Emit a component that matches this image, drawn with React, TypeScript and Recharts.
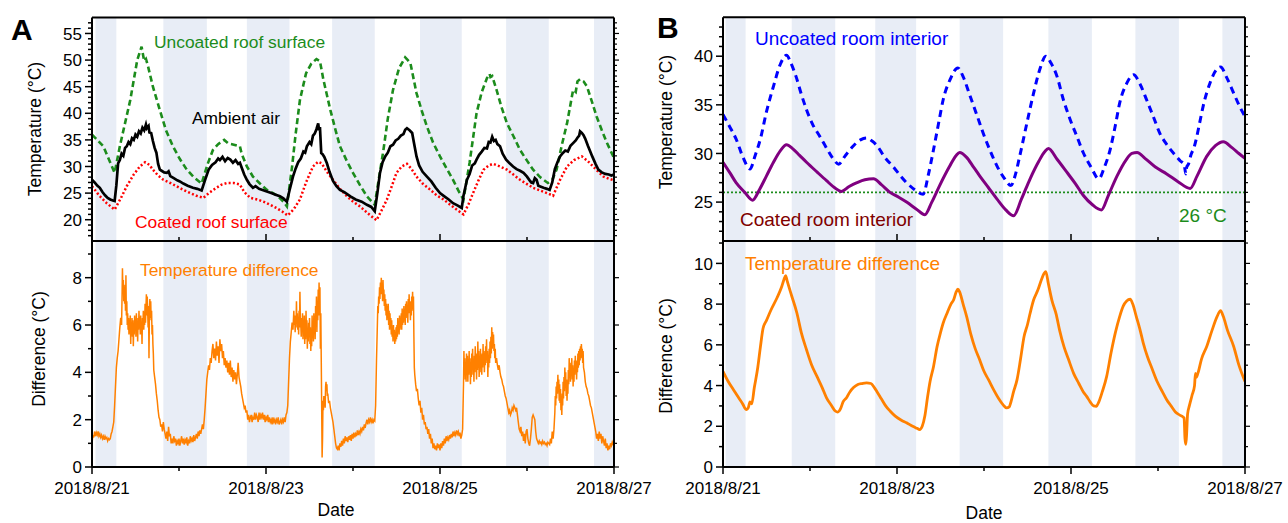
import React from "react";
import { LineChart, Line, XAxis, YAxis, ReferenceArea, ReferenceLine } from "recharts";

const FONT = '"Liberation Sans", Arial, sans-serif';
const BAND = "#e8edf6";

type Pt = [number, number];

// x values are days after 2018/8/21 00:00
const dayTicks = [0, 1, 2, 3, 4, 5, 6];
const labeledDays = [0, 2, 4, 6];
const dateLabels = ["2018/8/21", "2018/8/23", "2018/8/25", "2018/8/27"];

const nightsA: Pt[] = [[0.04, 0.28], [0.82, 1.32], [1.78, 2.27], [2.76, 3.25], [3.77, 4.25], [4.76, 5.25], [5.77, 6]];
const nightsB: Pt[] = [[0.03, 0.26], [0.79, 1.29], [1.75, 2.22], [2.72, 3.22], [3.74, 4.24], [4.74, 5.24], [5.74, 6]];

const tempTicksA = [17, 18, 19, 20, 21, 22, 23, 24, 25, 26, 27, 28, 29, 30, 31, 32, 33, 34, 35, 36, 37, 38, 39, 40, 41, 42, 43, 44, 45, 46, 47, 48, 49, 50, 51, 52, 53, 54, 55, 56, 57];
const tempLabelsA = [20, 25, 30, 35, 40, 45, 50, 55];
const diffTicksA = [0, 1, 2, 3, 4, 5, 6, 7, 8, 9];
const diffLabelsA = [0, 2, 4, 6, 8];
const tempTicksB = [22, 23, 24, 25, 26, 27, 28, 29, 30, 31, 32, 33, 34, 35, 36, 37, 38, 39, 40, 41, 42, 43];
const tempLabelsB = [25, 30, 35, 40];
const diffTicksB = [0, 1, 2, 3, 4, 5, 6, 7, 8, 9, 10, 11];
const diffLabelsB = [0, 2, 4, 6, 8, 10];
const comfortTemp = 26;

const uncoatedRoof: Pt[] = [
  [0, 36.0], [0.13, 33.8], [0.26, 28.8], [0.32, 33.8], [0.44, 42.5], [0.52, 50], [0.57, 52.5], [0.6, 49.8], [0.62, 50.2], [0.64, 49.1],
  [0.7, 45], [0.78, 40.6], [0.85, 36.8], [0.93, 33.8], [1.01, 31.4], [1.09, 29.4], [1.17, 28], [1.26, 26.8], [1.33, 30.5], [1.39, 33.1],
  [1.45, 34.2], [1.52, 35.0], [1.57, 34.3], [1.63, 34.1], [1.7, 33.8], [1.72, 32.4], [1.78, 30], [1.85, 28.1], [1.93, 26.8], [2.01, 25.6],
  [2.08, 25], [2.14, 24.4], [2.2, 23.4], [2.24, 22.5], [2.3, 30], [2.34, 36], [2.39, 42.5], [2.46, 47.5], [2.52, 49.3], [2.58, 50.2],
  [2.62, 49.8], [2.66, 46.3], [2.74, 40.6], [2.8, 36.8], [2.85, 33.8], [2.93, 31], [3.0, 28.8], [3.08, 26.5], [3.16, 24.4], [3.25, 22.8],
  [3.3, 28], [3.35, 33.1], [3.4, 39], [3.46, 44.4], [3.53, 48.5], [3.6, 50.5], [3.63, 50.0], [3.66, 49.4], [3.73, 43.8], [3.79, 40.5],
  [3.85, 37.5], [3.92, 34.5], [4.0, 31.9], [4.08, 29.5], [4.15, 27.5], [4.21, 25.5], [4.27, 23.8], [4.34, 30.7], [4.42, 40.0], [4.48, 44],
  [4.54, 46.6], [4.57, 47.4], [4.58, 46.8], [4.6, 47.0], [4.65, 44.4], [4.71, 41], [4.77, 38.1], [4.85, 35.5], [4.92, 33.1], [5.0, 31.1],
  [5.07, 29.4], [5.15, 28], [5.24, 26.9], [5.29, 27.5], [5.34, 29.4], [5.4, 34], [5.46, 38.1], [5.53, 44.4], [5.56, 44.0], [5.58, 46.0],
  [5.61, 46.4], [5.65, 46.0], [5.69, 45.0], [5.75, 42.0], [5.8, 39.4], [5.86, 36.8], [5.92, 34.4], [6.0, 31.6],
];

const ambientAir: Pt[] = [
  [0, 27.5], [0.03, 27.0], [0.06, 26.4], [0.09, 26.0], [0.12, 25.2], [0.15, 24.6], [0.18, 24.1], [0.21, 23.8], [0.24, 23.6], [0.26, 23.5],
  [0.28, 26.5], [0.3, 30.6], [0.32, 31.2], [0.34, 32.4], [0.36, 32.0], [0.38, 33.5], [0.4, 33.8], [0.42, 34.6], [0.44, 34.2], [0.46, 35.3],
  [0.48, 35.0], [0.5, 36.0], [0.52, 35.6], [0.54, 36.6], [0.56, 36.2], [0.58, 37.3], [0.6, 36.8], [0.62, 37.9], [0.63, 37.2], [0.65, 37.6],
  [0.66, 36.4], [0.68, 36.3], [0.7, 34.8], [0.72, 33.5], [0.74, 32.6], [0.76, 30.5], [0.78, 29.4], [0.8, 29.2], [0.83, 28.9], [0.86, 28.8],
  [0.88, 29.1], [0.9, 28.2], [0.94, 27.8], [0.98, 27.4], [1.01, 27.2], [1.05, 26.8], [1.1, 26.4], [1.16, 26.0], [1.21, 25.8], [1.26, 25.5],
  [1.3, 27.5], [1.34, 29.4], [1.38, 30.3], [1.42, 30.8], [1.45, 31.5], [1.47, 31.2], [1.5, 31.8], [1.53, 31.0], [1.56, 31.6], [1.59, 31.3],
  [1.62, 30.7], [1.65, 31.2], [1.68, 30.5], [1.7, 30.7], [1.72, 29.8], [1.75, 28.5], [1.78, 27.5], [1.81, 26.7], [1.85, 26.0], [1.88, 26.3],
  [1.92, 25.8], [1.96, 25.6], [2.01, 25.3], [2.06, 25.0], [2.11, 24.7], [2.16, 24.4], [2.2, 24.0], [2.24, 23.4], [2.27, 25.5], [2.31, 28.1],
  [2.34, 29.6], [2.37, 30.8], [2.4, 31.5], [2.43, 32.8], [2.45, 32.6], [2.47, 33.8], [2.5, 34.6], [2.52, 34.2], [2.54, 35.8], [2.56, 36.2],
  [2.58, 37.0], [2.6, 38.1], [2.61, 36.8], [2.62, 37.4], [2.635, 32.5], [2.65, 32.3], [2.67, 31.8], [2.7, 30.6], [2.73, 29.0], [2.77, 27.3],
  [2.81, 26.3], [2.85, 25.6], [2.9, 25.2], [2.97, 24.4], [3.03, 23.8], [3.1, 23.4], [3.16, 22.8], [3.21, 22.4], [3.25, 21.6], [3.28, 25.0],
  [3.31, 28.8], [3.34, 30.8], [3.37, 31.9], [3.4, 32.6], [3.43, 33.8], [3.46, 34.1], [3.49, 34.9], [3.52, 35.2], [3.55, 35.8], [3.58, 36.1],
  [3.6, 36.9], [3.62, 37.2], [3.65, 36.8], [3.68, 36.3], [3.7, 34.5], [3.73, 31.9], [3.76, 30.2], [3.8, 29.0], [3.85, 28.1], [3.9, 27.2],
  [3.95, 26.0], [4.0, 25.0], [4.05, 24.4], [4.1, 23.8], [4.15, 23.1], [4.2, 22.7], [4.25, 22.2], [4.27, 24.5], [4.29, 26.0], [4.31, 27.5],
  [4.34, 28.6], [4.37, 30.2], [4.4, 30.6], [4.42, 31.3], [4.45, 32.2], [4.48, 32.8], [4.51, 33.5], [4.54, 33.4], [4.56, 34.6], [4.58, 34.5],
  [4.6, 35.6], [4.62, 34.8], [4.64, 35.0], [4.66, 34.2], [4.69, 33.8], [4.72, 32.4], [4.76, 31.3], [4.8, 30.6], [4.84, 30.0], [4.88, 29.5],
  [4.92, 29.2], [4.96, 28.8], [5.0, 28.1], [5.03, 27.4], [5.05, 27.0], [5.07, 26.9], [5.09, 27.8], [5.11, 27.5], [5.13, 26.4], [5.16, 26.2],
  [5.19, 26.0], [5.23, 25.8], [5.26, 25.6], [5.29, 27.0], [5.32, 29.5], [5.35, 30.8], [5.38, 31.9], [5.41, 32.5], [5.44, 33.0], [5.47, 32.8],
  [5.5, 33.9], [5.53, 34.4], [5.56, 34.9], [5.58, 35.4], [5.6, 35.8], [5.61, 36.6], [5.63, 36.3], [5.65, 35.9], [5.67, 35.2], [5.7, 33.9],
  [5.72, 33.1], [5.75, 31.9], [5.79, 30.4], [5.82, 29.4], [5.86, 28.9], [5.9, 28.6], [5.94, 28.5], [5.97, 28.3], [6.0, 28.5],
];

const coatedRoof: Pt[] = [
  [0, 26.3], [0.08, 24.6], [0.17, 23.1], [0.26, 21.9], [0.33, 24.0], [0.4, 26.3], [0.48, 28.5], [0.55, 30.0], [0.61, 30.8], [0.66, 30.3],
  [0.7, 29.4], [0.76, 28.3], [0.82, 27.5], [0.9, 26.9], [0.97, 26.3], [1.05, 25.6], [1.13, 25.0], [1.2, 24.5], [1.28, 24.1], [1.35, 25.1],
  [1.43, 26.0], [1.49, 26.6], [1.55, 26.9], [1.63, 26.9], [1.7, 26.6], [1.75, 25.2], [1.82, 24.1], [1.9, 23.8], [1.97, 23.4], [2.05, 22.8],
  [2.12, 22.2], [2.19, 21.5], [2.25, 20.8], [2.32, 22.0], [2.39, 23.8], [2.46, 27.0], [2.54, 30.0], [2.6, 30.9], [2.64, 30.6], [2.7, 29.0],
  [2.77, 27.5], [2.85, 25.8], [2.93, 24.4], [3.0, 23.4], [3.08, 22.5], [3.17, 21.2], [3.27, 19.9], [3.33, 21.8], [3.39, 23.8], [3.45, 26.5],
  [3.5, 28.8], [3.56, 30.0], [3.62, 30.5], [3.67, 29.6], [3.73, 28.1], [3.8, 26.8], [3.89, 25.6], [3.96, 24.6], [4.04, 23.8], [4.12, 22.8],
  [4.2, 21.8], [4.27, 21.0], [4.33, 23.0], [4.38, 25.0], [4.44, 27.3], [4.5, 29.4], [4.56, 30.2], [4.61, 30.5], [4.69, 30.0], [4.77, 29.4],
  [4.85, 28.4], [4.92, 27.5], [5.0, 26.7], [5.07, 26.0], [5.15, 25.5], [5.23, 25.0], [5.3, 24.5], [5.38, 27.5], [5.46, 30.0], [5.54, 31.2],
  [5.63, 31.9], [5.7, 31.0], [5.76, 30.0], [5.82, 29.0], [5.88, 28.1], [5.94, 27.7], [6.0, 27.4],
];

const roofDifference: Pt[] = [
  [0, 1.0], [0.01, 1.35], [0.02, 1.25], [0.03, 1.5], [0.04, 1.3], [0.05, 1.45], [0.06, 1.35], [0.07, 1.5], [0.08, 1.3], [0.09, 1.4],
  [0.1, 1.25], [0.11, 1.35], [0.12, 1.2], [0.13, 1.3], [0.14, 1.15], [0.15, 1.3], [0.16, 1.2], [0.17, 1.25], [0.18, 1.1], [0.19, 1.2],
  [0.2, 1.15], [0.21, 1.2], [0.22, 1.4], [0.23, 1.5], [0.24, 1.7], [0.25, 1.9], [0.26, 2.6], [0.27, 3.4], [0.28, 4.2], [0.29, 4.6],
  [0.3, 4.9], [0.31, 5.4], [0.32, 5.9], [0.33, 6.3], [0.34, 6.0], [0.345, 7.1], [0.35, 8.4], [0.355, 7.5], [0.36, 7.9], [0.365, 7.0],
  [0.37, 7.6], [0.375, 6.9], [0.38, 7.7], [0.385, 6.6], [0.39, 8.1], [0.395, 6.4], [0.4, 7.0], [0.405, 6.0], [0.41, 6.5], [0.415, 5.8],
  [0.42, 6.3], [0.425, 5.6], [0.43, 6.2], [0.435, 5.9], [0.44, 6.4], [0.445, 5.2], [0.45, 6.1], [0.455, 5.7], [0.46, 6.3], [0.465, 5.5],
  [0.47, 6.2], [0.475, 5.1], [0.48, 6.0], [0.485, 5.6], [0.49, 6.4], [0.495, 5.8], [0.5, 6.2], [0.505, 5.5], [0.51, 6.5], [0.515, 5.7],
  [0.52, 6.1], [0.525, 5.3], [0.53, 6.3], [0.535, 5.8], [0.54, 6.6], [0.545, 5.9], [0.55, 6.2], [0.555, 5.6], [0.56, 6.4], [0.565, 5.7],
  [0.57, 6.1], [0.575, 5.2], [0.58, 6.3], [0.585, 5.9], [0.59, 6.6], [0.595, 5.8], [0.6, 6.5], [0.605, 6.0], [0.61, 6.9], [0.615, 6.1],
  [0.62, 6.7], [0.625, 7.3], [0.63, 6.4], [0.635, 7.2], [0.64, 6.6], [0.645, 5.9], [0.65, 6.8], [0.655, 4.6], [0.66, 6.5], [0.665, 7.1],
  [0.67, 6.3], [0.675, 7.0], [0.68, 6.2], [0.685, 6.6], [0.69, 5.6], [0.695, 6.0], [0.7, 5.2], [0.705, 4.8], [0.71, 4.1], [0.72, 3.8],
  [0.73, 3.5], [0.74, 3.1], [0.75, 2.8], [0.76, 2.4], [0.77, 2.1], [0.78, 2.0], [0.79, 1.7], [0.8, 1.8], [0.81, 1.5], [0.82, 1.9],
  [0.83, 1.6], [0.84, 1.4], [0.85, 1.2], [0.86, 1.5], [0.87, 1.1], [0.88, 1.7], [0.89, 1.3], [0.9, 1.4], [0.91, 1.0], [0.92, 1.2],
  [0.93, 1.0], [0.94, 1.3], [0.95, 1.1], [0.96, 1.2], [0.97, 0.9], [0.98, 1.1], [0.99, 1.0], [1.0, 1.2], [1.01, 0.9], [1.02, 1.1],
  [1.03, 1.3], [1.04, 1.0], [1.05, 1.2], [1.06, 0.95], [1.07, 1.15], [1.08, 1.05], [1.09, 1.25], [1.1, 0.9], [1.11, 1.1], [1.12, 1.0],
  [1.13, 1.3], [1.14, 1.1], [1.15, 1.2], [1.16, 1.05], [1.17, 1.35], [1.18, 1.1], [1.19, 1.25], [1.2, 1.4], [1.21, 1.2], [1.22, 1.5],
  [1.23, 1.3], [1.24, 1.55], [1.25, 1.4], [1.26, 1.6], [1.27, 1.8], [1.28, 1.6], [1.29, 2.0], [1.3, 2.5], [1.31, 3.1], [1.32, 3.7],
  [1.33, 4.0], [1.34, 4.3], [1.35, 4.1], [1.36, 4.6], [1.37, 4.4], [1.38, 4.9], [1.39, 5.2], [1.4, 4.6], [1.41, 5.0], [1.42, 4.5],
  [1.43, 5.3], [1.44, 4.7], [1.45, 5.1], [1.46, 4.4], [1.47, 5.4], [1.48, 4.9], [1.49, 5.2], [1.5, 4.6], [1.51, 4.9], [1.52, 4.3],
  [1.53, 4.6], [1.54, 4.2], [1.55, 4.5], [1.56, 4.0], [1.57, 4.4], [1.58, 3.9], [1.59, 4.5], [1.6, 3.8], [1.61, 4.2], [1.62, 3.6],
  [1.63, 4.1], [1.64, 3.7], [1.65, 4.0], [1.66, 3.5], [1.67, 3.9], [1.68, 4.4], [1.69, 3.8], [1.7, 3.6], [1.71, 3.4], [1.72, 3.1],
  [1.73, 2.9], [1.74, 2.7], [1.75, 2.5], [1.76, 2.6], [1.77, 2.3], [1.78, 2.4], [1.79, 2.0], [1.8, 2.2], [1.81, 1.9], [1.82, 2.1],
  [1.83, 2.2], [1.84, 1.9], [1.85, 2.1], [1.86, 2.0], [1.87, 2.3], [1.88, 2.0], [1.89, 2.2], [1.9, 2.1], [1.91, 1.9], [1.92, 2.3],
  [1.93, 2.0], [1.94, 2.2], [1.95, 2.1], [1.96, 2.3], [1.97, 2.0], [1.98, 2.2], [1.99, 1.9], [2.0, 2.1], [2.01, 2.0], [2.02, 2.2],
  [2.03, 1.9], [2.04, 2.1], [2.05, 1.9], [2.06, 2.0], [2.07, 1.8], [2.08, 2.1], [2.09, 1.9], [2.1, 2.0], [2.11, 1.8], [2.12, 2.0],
  [2.13, 1.9], [2.14, 2.1], [2.15, 1.8], [2.16, 1.9], [2.17, 2.0], [2.18, 1.8], [2.19, 2.0], [2.2, 1.9], [2.21, 2.1], [2.22, 1.9],
  [2.23, 2.2], [2.24, 2.3], [2.25, 2.6], [2.26, 3.6], [2.27, 4.6], [2.28, 5.3], [2.29, 5.7], [2.3, 6.1], [2.31, 5.8], [2.32, 6.6],
  [2.325, 6.0], [2.33, 6.4], [2.335, 5.7], [2.34, 6.2], [2.345, 5.9], [2.35, 7.0], [2.355, 6.1], [2.36, 6.5], [2.365, 5.8], [2.37, 6.3],
  [2.375, 5.6], [2.38, 6.6], [2.385, 5.9], [2.39, 7.4], [2.395, 6.2], [2.4, 6.0], [2.405, 5.5], [2.41, 6.3], [2.415, 5.8], [2.42, 6.5],
  [2.425, 5.4], [2.43, 6.0], [2.435, 5.7], [2.44, 6.4], [2.445, 5.2], [2.45, 5.9], [2.455, 5.4], [2.46, 6.6], [2.465, 5.8], [2.47, 6.2],
  [2.475, 5.0], [2.48, 5.8], [2.485, 5.3], [2.49, 6.1], [2.495, 5.6], [2.5, 6.3], [2.505, 5.2], [2.51, 5.9], [2.515, 4.9], [2.52, 5.7],
  [2.525, 5.1], [2.53, 6.4], [2.535, 5.5], [2.54, 6.0], [2.545, 5.3], [2.55, 6.5], [2.555, 5.9], [2.56, 6.3], [2.565, 5.4], [2.57, 6.8],
  [2.575, 6.0], [2.58, 7.2], [2.585, 5.7], [2.59, 7.0], [2.595, 6.2], [2.6, 7.5], [2.605, 6.4], [2.61, 7.8], [2.615, 6.8], [2.62, 7.6],
  [2.625, 5.0], [2.63, 6.5], [2.635, 4.6], [2.64, 2.5], [2.645, 0.4], [2.65, 1.2], [2.655, 2.8], [2.66, 2.4], [2.665, 3.0], [2.67, 2.6],
  [2.675, 2.9], [2.68, 2.5], [2.685, 3.4], [2.69, 3.6], [2.695, 3.2], [2.7, 3.5], [2.705, 3.0], [2.71, 3.1], [2.72, 2.7], [2.73, 2.8],
  [2.74, 2.5], [2.75, 2.3], [2.76, 2.1], [2.77, 1.9], [2.78, 1.6], [2.79, 1.3], [2.8, 1.0], [2.81, 0.8], [2.82, 0.75], [2.83, 0.9],
  [2.84, 0.7], [2.85, 1.0], [2.86, 0.85], [2.87, 1.1], [2.88, 0.9], [2.89, 1.2], [2.9, 1.0], [2.91, 1.3], [2.92, 1.1], [2.93, 1.25],
  [2.94, 1.05], [2.95, 1.3], [2.96, 1.15], [2.97, 1.35], [2.98, 1.1], [2.99, 1.4], [3.0, 1.2], [3.01, 1.45], [3.02, 1.25], [3.03, 1.4],
  [3.04, 1.3], [3.05, 1.55], [3.06, 1.35], [3.07, 1.5], [3.08, 1.4], [3.09, 1.6], [3.1, 1.5], [3.11, 1.7], [3.12, 1.55], [3.13, 1.8],
  [3.14, 1.65], [3.15, 1.85], [3.16, 2.0], [3.17, 1.8], [3.18, 2.0], [3.19, 1.9], [3.2, 2.1], [3.21, 1.9], [3.22, 2.0], [3.23, 1.85],
  [3.24, 2.0], [3.25, 1.95], [3.26, 2.6], [3.27, 4.5], [3.28, 6.0], [3.285, 6.8], [3.29, 6.5], [3.295, 7.2], [3.3, 6.9], [3.305, 7.6],
  [3.31, 7.1], [3.315, 7.8], [3.32, 7.3], [3.325, 8.0], [3.33, 7.4], [3.335, 7.7], [3.34, 7.0], [3.345, 7.9], [3.35, 7.2], [3.355, 7.5],
  [3.36, 6.8], [3.365, 7.3], [3.37, 6.6], [3.375, 7.1], [3.38, 6.4], [3.385, 6.9], [3.39, 6.2], [3.395, 6.8], [3.4, 6.3], [3.405, 6.9],
  [3.41, 6.0], [3.415, 6.6], [3.42, 5.8], [3.425, 6.5], [3.43, 5.9], [3.435, 6.3], [3.44, 5.6], [3.445, 6.2], [3.45, 5.5], [3.455, 5.9],
  [3.46, 5.3], [3.465, 6.0], [3.47, 5.4], [3.475, 5.8], [3.48, 5.2], [3.485, 5.7], [3.49, 5.3], [3.495, 5.9], [3.5, 5.4], [3.505, 6.0],
  [3.51, 5.5], [3.515, 6.3], [3.52, 5.7], [3.525, 6.1], [3.53, 5.6], [3.535, 6.4], [3.54, 5.8], [3.545, 6.2], [3.55, 5.9], [3.555, 6.5],
  [3.56, 5.8], [3.565, 6.7], [3.57, 6.0], [3.575, 6.4], [3.58, 6.1], [3.585, 6.8], [3.59, 6.2], [3.595, 6.6], [3.6, 6.0], [3.605, 6.9],
  [3.61, 6.3], [3.615, 7.0], [3.62, 6.4], [3.625, 6.8], [3.63, 6.1], [3.635, 7.1], [3.64, 6.5], [3.645, 7.3], [3.65, 6.6], [3.655, 6.9],
  [3.66, 6.2], [3.665, 7.0], [3.67, 6.4], [3.675, 7.2], [3.68, 6.8], [3.685, 7.4], [3.69, 6.6], [3.695, 7.2], [3.7, 5.5], [3.705, 4.2],
  [3.71, 3.9], [3.72, 3.5], [3.73, 3.2], [3.74, 3.3], [3.75, 2.9], [3.76, 2.6], [3.77, 2.8], [3.78, 2.3], [3.79, 2.5], [3.8, 2.0],
  [3.81, 2.2], [3.82, 1.8], [3.83, 1.9], [3.84, 1.6], [3.85, 1.7], [3.86, 1.4], [3.87, 1.6], [3.88, 1.2], [3.89, 1.4], [3.9, 1.0],
  [3.91, 1.2], [3.92, 0.8], [3.93, 1.0], [3.94, 0.75], [3.95, 0.9], [3.96, 0.7], [3.97, 1.0], [3.98, 0.8], [3.99, 0.95], [4.0, 0.7],
  [4.01, 1.0], [4.02, 0.8], [4.03, 1.1], [4.04, 0.9], [4.05, 1.2], [4.06, 1.0], [4.07, 1.3], [4.08, 1.1], [4.09, 1.25], [4.1, 1.15],
  [4.11, 1.35], [4.12, 1.2], [4.13, 1.4], [4.14, 1.25], [4.15, 1.5], [4.16, 1.3], [4.17, 1.45], [4.18, 1.35], [4.19, 1.55], [4.2, 1.4],
  [4.21, 1.5], [4.22, 1.3], [4.23, 1.45], [4.24, 1.2], [4.25, 1.35], [4.26, 1.6], [4.27, 3.5], [4.275, 4.9], [4.28, 4.0], [4.285, 4.6],
  [4.29, 3.7], [4.295, 4.4], [4.3, 3.6], [4.305, 4.8], [4.31, 4.0], [4.315, 4.7], [4.32, 3.6], [4.325, 4.4], [4.33, 3.9], [4.335, 4.9],
  [4.34, 4.1], [4.345, 4.6], [4.35, 3.5], [4.355, 4.3], [4.36, 3.8], [4.365, 4.8], [4.37, 4.2], [4.375, 5.0], [4.38, 3.9], [4.385, 4.5],
  [4.39, 3.6], [4.395, 4.7], [4.4, 4.0], [4.405, 5.1], [4.41, 4.3], [4.415, 4.8], [4.42, 3.7], [4.425, 4.6], [4.43, 4.1], [4.435, 5.3],
  [4.44, 4.2], [4.445, 4.9], [4.45, 3.8], [4.455, 4.5], [4.46, 4.0], [4.465, 5.0], [4.47, 4.3], [4.475, 4.7], [4.48, 3.9], [4.485, 4.8],
  [4.49, 4.2], [4.495, 5.2], [4.5, 4.4], [4.505, 4.9], [4.51, 4.0], [4.515, 4.7], [4.52, 4.3], [4.525, 5.1], [4.53, 4.5], [4.535, 5.4],
  [4.54, 4.4], [4.545, 4.9], [4.55, 3.8], [4.555, 4.6], [4.56, 4.2], [4.565, 5.0], [4.57, 4.4], [4.575, 5.3], [4.58, 4.6], [4.585, 5.5],
  [4.59, 4.8], [4.595, 5.9], [4.6, 5.0], [4.605, 5.7], [4.61, 5.1], [4.615, 5.6], [4.62, 4.9], [4.625, 5.2], [4.63, 4.6], [4.635, 5.0],
  [4.64, 4.4], [4.65, 4.6], [4.66, 4.3], [4.67, 4.1], [4.68, 4.3], [4.69, 4.0], [4.7, 3.8], [4.71, 3.7], [4.72, 3.5], [4.73, 3.4],
  [4.74, 3.2], [4.75, 3.0], [4.76, 2.9], [4.77, 2.7], [4.78, 2.5], [4.79, 2.3], [4.8, 2.4], [4.81, 2.2], [4.82, 2.3], [4.83, 2.5],
  [4.84, 2.4], [4.85, 2.6], [4.86, 2.5], [4.87, 2.4], [4.88, 2.5], [4.89, 2.2], [4.9, 1.9], [4.91, 1.6], [4.92, 1.5], [4.93, 1.7],
  [4.94, 1.3], [4.95, 1.5], [4.96, 1.1], [4.97, 1.4], [4.98, 1.0], [4.99, 1.5], [5.0, 1.6], [5.01, 1.2], [5.02, 1.0], [5.03, 0.9],
  [5.04, 1.2], [5.05, 1.6], [5.06, 2.1], [5.07, 2.2], [5.08, 2.1], [5.09, 2.0], [5.1, 1.5], [5.11, 1.2], [5.12, 1.1], [5.13, 1.0],
  [5.14, 1.1], [5.15, 1.0], [5.16, 1.05], [5.17, 0.95], [5.18, 1.1], [5.19, 1.0], [5.2, 1.05], [5.21, 0.95], [5.22, 1.0], [5.23, 0.9],
  [5.24, 1.05], [5.25, 1.0], [5.26, 0.95], [5.27, 1.2], [5.28, 1.0], [5.29, 1.5], [5.3, 1.2], [5.31, 1.6], [5.32, 2.3], [5.325, 3.0],
  [5.33, 2.6], [5.335, 3.4], [5.34, 2.9], [5.345, 3.6], [5.35, 3.1], [5.355, 3.9], [5.36, 3.2], [5.365, 3.7], [5.37, 2.8], [5.375, 3.5],
  [5.38, 2.7], [5.385, 3.3], [5.39, 2.4], [5.395, 3.0], [5.4, 2.2], [5.405, 3.1], [5.41, 2.6], [5.415, 3.6], [5.42, 2.9], [5.425, 3.8],
  [5.43, 3.2], [5.435, 4.2], [5.44, 3.4], [5.445, 4.0], [5.45, 3.0], [5.455, 3.7], [5.46, 2.8], [5.465, 3.5], [5.47, 3.1], [5.475, 4.1],
  [5.48, 3.5], [5.485, 4.6], [5.49, 3.8], [5.495, 4.3], [5.5, 3.6], [5.505, 4.4], [5.51, 3.9], [5.515, 4.6], [5.52, 3.7], [5.525, 4.3],
  [5.53, 3.4], [5.535, 4.1], [5.54, 3.6], [5.545, 4.5], [5.55, 3.9], [5.555, 4.7], [5.56, 4.0], [5.565, 4.5], [5.57, 3.7], [5.575, 4.4],
  [5.58, 4.0], [5.585, 4.8], [5.59, 4.2], [5.595, 4.9], [5.6, 4.3], [5.605, 5.0], [5.61, 4.5], [5.615, 5.1], [5.62, 4.6], [5.625, 5.2],
  [5.63, 4.8], [5.635, 5.0], [5.64, 4.4], [5.645, 4.9], [5.65, 4.2], [5.66, 4.0], [5.67, 3.6], [5.68, 3.4], [5.69, 3.3], [5.7, 3.1],
  [5.71, 3.0], [5.72, 2.8], [5.73, 2.6], [5.74, 2.5], [5.75, 2.3], [5.76, 2.1], [5.77, 1.9], [5.78, 1.7], [5.79, 1.5], [5.8, 1.2],
  [5.81, 1.4], [5.82, 1.1], [5.83, 1.5], [5.84, 1.2], [5.85, 1.4], [5.86, 1.0], [5.87, 1.3], [5.88, 1.1], [5.89, 0.9], [5.9, 1.2],
  [5.91, 0.8], [5.92, 1.0], [5.93, 0.7], [5.94, 0.9], [5.95, 0.75], [5.96, 1.0], [5.97, 0.9], [5.98, 1.05], [5.99, 0.95], [6.0, 1.0],
];

const uncoatedRoom: Pt[] = [
  [0, 34.0], [0.08, 32.7], [0.15, 31.5], [0.23, 29.6], [0.31, 28.4], [0.37, 29.8], [0.43, 31.5], [0.5, 34.3], [0.58, 36.9], [0.66, 39.2],
  [0.73, 40.1], [0.78, 39.3], [0.84, 37.9], [0.9, 36.1], [0.96, 34.5], [1.03, 33.0], [1.11, 31.8], [1.2, 30.4], [1.27, 29.4], [1.33, 28.9],
  [1.4, 29.7], [1.5, 30.8], [1.58, 31.4], [1.65, 31.6], [1.71, 31.3], [1.77, 30.8], [1.86, 29.6], [1.96, 28.6], [2.04, 27.7], [2.11, 27.0],
  [2.2, 26.3], [2.3, 25.8], [2.36, 27.8], [2.42, 30.4], [2.48, 33.2], [2.53, 35.5], [2.61, 37.6], [2.7, 38.8], [2.76, 37.9], [2.84, 35.9],
  [2.92, 33.9], [2.99, 32.1], [3.07, 30.3], [3.15, 28.7], [3.23, 27.5], [3.31, 26.7], [3.36, 27.8], [3.41, 29.7], [3.49, 33.0], [3.57, 36.2],
  [3.64, 38.6], [3.71, 40.0], [3.77, 39.3], [3.84, 37.9], [3.91, 35.6], [3.99, 33.5], [4.07, 31.7], [4.14, 30.1], [4.23, 28.6], [4.32, 27.4],
  [4.38, 28.5], [4.45, 30.4], [4.51, 32.9], [4.56, 35.2], [4.64, 37.2], [4.72, 38.1], [4.79, 37.2], [4.87, 35.5], [4.95, 33.7], [5.02, 32.1],
  [5.11, 30.8], [5.21, 29.7], [5.26, 29.2], [5.3, 28.9], [5.32, 27.9], [5.33, 28.6], [5.35, 28.9], [5.38, 29.9], [5.41, 30.5], [5.44, 31.5],
  [5.48, 33.2], [5.52, 34.9], [5.6, 37.3], [5.67, 38.6], [5.72, 38.9], [5.79, 37.8], [5.87, 36.2], [5.94, 34.8], [6.0, 33.8],
];

const coatedRoom: Pt[] = [
  [0, 29.1], [0.08, 28.0], [0.15, 27.0], [0.25, 26.0], [0.34, 25.2], [0.42, 26.3], [0.5, 27.7], [0.58, 29.1], [0.66, 30.3], [0.73, 30.9],
  [0.8, 30.5], [0.88, 29.8], [0.96, 29.1], [1.08, 28.1], [1.19, 27.2], [1.28, 26.5], [1.36, 26.1], [1.45, 26.6], [1.54, 27.0], [1.63, 27.3],
  [1.73, 27.4], [1.82, 26.8], [1.92, 26.0], [2.02, 25.5], [2.11, 25.0], [2.22, 24.3], [2.32, 23.7], [2.4, 25.0], [2.49, 26.7], [2.6, 28.6],
  [2.68, 29.8], [2.72, 30.1], [2.8, 29.6], [2.88, 28.6], [2.95, 27.7], [3.05, 26.5], [3.15, 25.3], [3.25, 24.2], [3.34, 23.6], [3.43, 25.3],
  [3.53, 27.4], [3.63, 29.2], [3.7, 30.2], [3.74, 30.5], [3.84, 29.4], [3.95, 28.1], [4.05, 26.9], [4.14, 25.7], [4.25, 24.7], [4.35, 24.2],
  [4.43, 25.7], [4.53, 27.7], [4.63, 29.3], [4.7, 30.0], [4.76, 30.1], [4.85, 29.5], [4.97, 28.6], [5.1, 27.9], [5.23, 27.1], [5.37, 26.4],
  [5.45, 27.7], [5.56, 29.7], [5.66, 30.8], [5.75, 31.2], [5.85, 30.6], [5.93, 30.0], [6.0, 29.5],
];

const roomDifference: Pt[] = [
  [0, 4.7], [0.06, 4.2], [0.12, 3.8], [0.18, 3.4], [0.23, 3.07], [0.25, 2.9], [0.27, 2.82], [0.29, 2.9], [0.31, 3.2], [0.33, 3.1],
  [0.36, 3.9], [0.4, 4.9], [0.43, 5.9], [0.46, 6.8], [0.5, 7.2], [0.55, 7.7], [0.62, 8.3], [0.67, 8.8], [0.7, 9.2], [0.72, 9.4],
  [0.74, 9.1], [0.79, 8.4], [0.85, 7.55], [0.9, 6.6], [0.96, 5.76], [1.02, 5.0], [1.08, 4.45], [1.14, 3.9], [1.19, 3.4], [1.25, 3.0],
  [1.29, 2.75], [1.32, 2.7], [1.35, 2.85], [1.38, 3.2], [1.42, 3.4], [1.46, 3.7], [1.5, 3.9], [1.55, 4.05], [1.6, 4.1], [1.65, 4.13],
  [1.7, 4.1], [1.74, 3.9], [1.77, 3.7], [1.82, 3.35], [1.87, 3.0], [1.92, 2.75], [1.98, 2.5], [2.05, 2.3], [2.11, 2.17], [2.18, 2.0],
  [2.23, 1.9], [2.26, 1.84], [2.29, 2.0], [2.32, 2.5], [2.35, 3.4], [2.38, 4.2], [2.42, 4.94], [2.46, 5.9], [2.5, 6.6], [2.53, 7.06],
  [2.58, 7.6], [2.62, 8.0], [2.65, 8.2], [2.68, 8.6], [2.7, 8.73], [2.72, 8.6], [2.76, 8.0], [2.8, 7.4], [2.85, 6.5], [2.9, 5.8],
  [2.95, 5.27], [3.0, 4.7], [3.05, 4.3], [3.11, 3.8], [3.17, 3.35], [3.22, 3.05], [3.26, 2.9], [3.29, 2.95], [3.31, 3.2], [3.34, 3.7],
  [3.38, 4.29], [3.42, 5.3], [3.46, 6.4], [3.5, 7.0], [3.53, 7.55], [3.57, 8.2], [3.62, 8.7], [3.66, 9.2], [3.69, 9.5], [3.71, 9.6],
  [3.74, 9.0], [3.78, 8.2], [3.83, 7.5], [3.87, 6.7], [3.92, 5.9], [3.97, 5.3], [4.03, 4.6], [4.09, 4.1], [4.14, 3.7], [4.18, 3.47],
  [4.22, 3.2], [4.26, 3.0], [4.29, 2.98], [4.32, 3.2], [4.36, 3.7], [4.41, 4.45], [4.46, 5.6], [4.51, 6.6], [4.56, 7.4], [4.6, 7.9],
  [4.64, 8.15], [4.68, 8.24], [4.71, 8.0], [4.75, 7.4], [4.79, 6.8], [4.83, 6.1], [4.88, 5.4], [4.93, 4.85], [4.99, 4.2], [5.05, 3.7],
  [5.1, 3.3], [5.15, 3.0], [5.2, 2.7], [5.25, 2.55], [5.29, 2.45], [5.3, 2.4], [5.31, 1.4], [5.32, 1.11], [5.33, 1.7], [5.34, 2.6],
  [5.36, 3.0], [5.39, 3.5], [5.42, 4.0], [5.43, 4.6], [5.44, 4.4], [5.46, 4.62], [5.5, 5.3], [5.56, 5.92], [5.62, 6.7], [5.68, 7.4],
  [5.72, 7.68], [5.75, 7.4], [5.8, 6.7], [5.87, 5.92], [5.93, 5.0], [6.0, 4.2],
];

interface Series {
  data: Pt[];
  color: string;
  width: number;
  dash?: string;
  curve?: "linear" | "monotone";
}

const leftTick = (labeled: number[]) => (p: any) => {
  const v = p.payload.value;
  const major = labeled.includes(v);
  return (
    <g>
      <line x1={p.x} x2={p.x - (major ? 7 : 4)} y1={p.y} y2={p.y} stroke="#000" strokeWidth={1.5} />
      {major && (
        <text x={p.x - 10} y={p.y} dy="0.36em" textAnchor="end" fontSize={17} fontFamily={FONT} fill="#000">
          {v}
        </text>
      )}
    </g>
  );
};

const rightTick = (labeled: number[]) => (p: any) => {
  const major = labeled.includes(p.payload.value);
  return <line x1={p.x} x2={p.x + (major ? 5 : 3)} y1={p.y} y2={p.y} stroke="#000" strokeWidth={1.2} />;
};

const dateTick = (isBottom: boolean) => (p: any) => {
  const i = labeledDays.indexOf(p.payload.value);
  const len = i >= 0 ? 7 : 4;
  return (
    <g>
      <line x1={p.x} x2={p.x} y1={p.y} y2={isBottom ? p.y + len : p.y - len} stroke="#000" strokeWidth={1.5} />
      {isBottom && i >= 0 && (
        <text x={p.x} y={p.y + 26.5} textAnchor="middle" fontSize={17} fontFamily={FONT} fill="#000">
          {dateLabels[i]}
        </text>
      )}
    </g>
  );
};

function Panel(props: {
  x: number;
  y: number;
  height: number;
  marginTop: number;
  axisHeight: number;
  isBottom: boolean;
  domain: [number, number];
  ticks: number[];
  labeled: number[];
  nights: Pt[];
  series: Series[];
  guide?: number;
}) {
  const { x, y, height, marginTop, axisHeight, isBottom, domain, ticks, labeled, nights, series, guide } = props;
  return (
    <div style={{ position: "absolute", left: x, top: y }}>
      {/* extra right margin so the last date label is not clipped */}
      <LineChart width={680} height={height} margin={{ top: marginTop, right: 40, bottom: 0, left: 0 }}>
        <XAxis
          xAxisId="d"
          type="number"
          dataKey="d"
          domain={[0, 6]}
          ticks={dayTicks}
          interval={0}
          height={axisHeight}
          tickLine={false}
          tickSize={0}
          tickMargin={0}
          axisLine={{ stroke: "#000", strokeWidth: 2 }}
          tick={dateTick(isBottom)}
          allowDataOverflow
        />
        <YAxis
          yAxisId="l"
          type="number"
          domain={domain}
          ticks={ticks}
          interval={0}
          width={92}
          tickLine={false}
          tickSize={0}
          tickMargin={0}
          axisLine={{ stroke: "#000", strokeWidth: 2 }}
          tick={leftTick(labeled)}
          allowDataOverflow
        />
        <YAxis
          yAxisId="r"
          orientation="right"
          type="number"
          domain={domain}
          ticks={ticks}
          interval={0}
          width={26}
          tickLine={false}
          tickSize={0}
          tickMargin={0}
          axisLine={{ stroke: "#000", strokeWidth: 2 }}
          tick={rightTick(labeled)}
          allowDataOverflow
        />
        {nights.map(([a, b], i) => (
          <ReferenceArea key={i} xAxisId="d" yAxisId="l" x1={a} x2={b} fill={BAND} fillOpacity={1} stroke="none" />
        ))}
        {guide !== undefined && (
          <ReferenceLine xAxisId="d" yAxisId="l" y={guide} stroke="#1c8c1c" strokeWidth={1.6} strokeDasharray="2 2" />
        )}
        <ReferenceLine xAxisId="d" yAxisId="l" y={domain[1]} stroke="#000" strokeWidth={2} />
        {series.map((s, i) => (
          <Line
            key={i}
            xAxisId="d"
            yAxisId="l"
            data={s.data.map(([d, v]) => ({ d, v }))}
            dataKey="v"
            type={s.curve ?? "linear"}
            stroke={s.color}
            strokeWidth={s.width}
            strokeDasharray={s.dash}
            dot={false}
            activeDot={false}
            isAnimationActive={false}
          />
        ))}
      </LineChart>
    </div>
  );
}

const txtA = { fontFamily: FONT, fontSize: 17.4 };
const txtB = { fontFamily: FONT, fontSize: 19 };
const title = { fontFamily: FONT, fontSize: 17.5 };

export default function App() {
  return (
    <div style={{ position: "absolute", left: 0, top: 0, width: 1288, height: 523, background: "#fff", overflow: "hidden" }}>
      <Panel
        x={0} y={236} height={287} marginTop={5} axisHeight={56} isBottom
        domain={[0, 9.55]} ticks={diffTicksA} labeled={diffLabelsA} nights={nightsA}
        series={[{ data: roofDifference, color: "#ff8000", width: 1.5 }]}
      />
      <Panel
        x={0} y={0} height={242} marginTop={17.5} axisHeight={1} isBottom={false}
        domain={[16, 58]} ticks={tempTicksA} labeled={tempLabelsA} nights={nightsA}
        series={[
          { data: uncoatedRoof, color: "#1c8c1c", width: 2.6, dash: "6 3.5" },
          { data: coatedRoof, color: "#ff0000", width: 2.5, dash: "2 2.2" },
          { data: ambientAir, color: "#000", width: 2.7 },
        ]}
      />
      <Panel
        x={631} y={236} height={287} marginTop={5} axisHeight={56} isBottom
        domain={[0, 11.1]} ticks={diffTicksB} labeled={diffLabelsB} nights={nightsB}
        series={[{ data: roomDifference, color: "#ff8000", width: 2.8, curve: "monotone" }]}
      />
      <Panel
        x={631} y={0} height={242} marginTop={17.3} axisHeight={1} isBottom={false}
        domain={[21, 44]} ticks={tempTicksB} labeled={tempLabelsB} nights={nightsB} guide={comfortTemp}
        series={[
          { data: coatedRoom, color: "#800080", width: 3, curve: "monotone" },
          { data: uncoatedRoom, color: "#0000ff", width: 3, dash: "7 5", curve: "monotone" },
        ]}
      />
      <svg width={1288} height={523} style={{ position: "absolute", left: 0, top: 0, pointerEvents: "none" }}>
        <text x={11} y={40} fontFamily={FONT} fontSize={30} fontWeight="bold">A</text>
        <text x={657} y={38} fontFamily={FONT} fontSize={30} fontWeight="bold">B</text>

        <text {...txtA} x={154} y={48} fill="#1c8c1c">Uncoated roof surface</text>
        <text {...txtA} x={192} y={124} fill="#000">Ambient air</text>
        <text {...txtA} x={135} y={228} fill="#ff0000">Coated roof surface</text>
        <text {...txtA} x={140} y={276} fill="#ff8000">Temperature difference</text>

        <text {...txtB} x={755} y={45} fill="#0000ff">Uncoated room interior</text>
        <text {...txtB} x={740} y={226} fill="#800000">Coated room interior</text>
        <text {...txtB} x={1179} y={222} fill="#1c8c1c">26 °C</text>
        <text {...txtB} x={745} y={270} fill="#ff8000">Temperature difference</text>

        <text {...title} transform="translate(35,129) rotate(-90)" textAnchor="middle" dominantBaseline="central">Temperature (°C)</text>
        <text {...title} transform="translate(39,349) rotate(-90)" textAnchor="middle" dominantBaseline="central">Difference (°C)</text>
        <text {...title} transform="translate(666,122) rotate(-90)" textAnchor="middle" dominantBaseline="central">Temperature (°C)</text>
        <text {...title} transform="translate(666,356) rotate(-90)" textAnchor="middle" dominantBaseline="central">Difference (°C)</text>

        <text {...title} x={336} y={516} textAnchor="middle">Date</text>
        <text {...title} x={984} y={519} textAnchor="middle">Date</text>
      </svg>
    </div>
  );
}
